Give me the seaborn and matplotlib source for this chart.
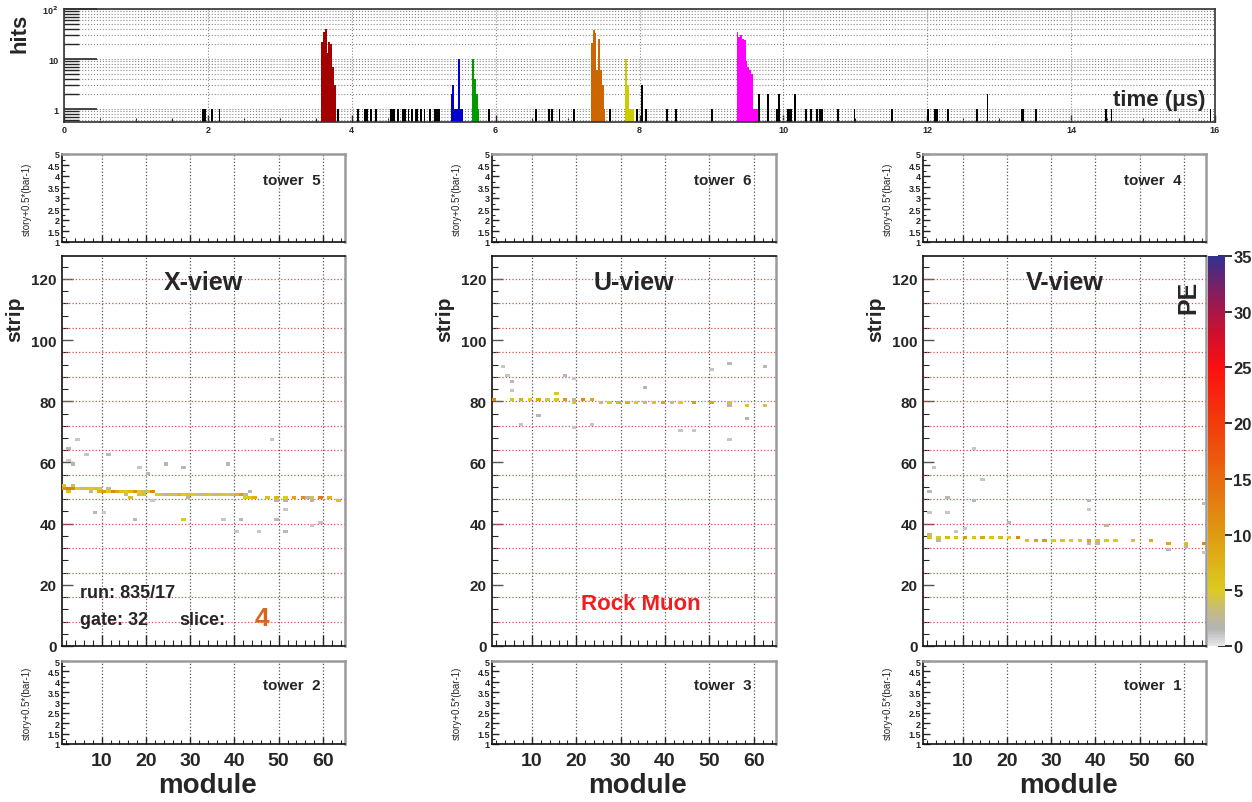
import numpy as np
import pandas as pd
import matplotlib
matplotlib.use("Agg")
import matplotlib.pyplot as plt
import seaborn as sns
from matplotlib.colors import LinearSegmentedColormap, Normalize
from matplotlib.cm import ScalarMappable
from matplotlib.ticker import MultipleLocator, LogLocator, NullFormatter, FuncFormatter, FixedLocator

# ---------------- time spectrum of hits ----------------
BIN_W = 0.025
SLICE_COLORS = ["#a30000", "#0000cc", "#009900", "#cc6600", "#cccc00", "#ff00ff"]
SLICE_START = [3.575, 5.375, 5.675, 7.325, 7.800, 9.350]
SLICE_COUNTS = [
    [22, 35, 40, 13, 22, 20, 7, 3],
    [2, 3, 1, 1, 10, 1, 1],
    [10, 4, 2, 1],
    [21, 38, 33, 6, 25, 6, 3, 1],
    [10, 3, 1, 1, 1],
    [34, 28, 30, 25, 24, 9, 7, 6, 5, 1, 1, 1],
]
NOISE_TIMES = [1.93, 1.96, 2.07, 2.17, 3.81, 4.09, 4.18, 4.21, 4.25, 4.35, 4.53, 4.56,
               4.60, 4.64, 4.71, 4.74, 4.78, 4.83, 4.88, 4.92, 4.95, 5.02, 5.09, 5.16,
               5.18, 5.22, 5.91, 6.57, 6.73, 6.80, 6.89, 7.10, 7.59, 7.96, 8.04, 8.08,
               8.38, 8.52, 9.00, 9.67, 9.79, 9.90, 9.95, 10.06, 10.09, 10.12, 10.15,
               10.17, 10.32, 10.39, 10.46, 10.51, 10.53, 10.76, 10.99, 11.50, 12.01,
               12.11, 12.14, 12.29, 12.69, 12.83, 13.31, 13.34, 13.52, 14.49, 14.56, 15.93]
NOISE_COUNTS = [1, 1, 1, 1, 1, 1, 1, 1, 1, 1, 1, 1,
                1, 1, 1, 1, 1, 1, 1, 1, 1, 1, 1, 1,
                1, 1, 1, 1, 1, 1, 1, 1, 1, 1, 3, 1,
                1, 1, 1, 2, 2, 1, 2, 1, 1, 1, 1,
                1, 1, 1, 1, 1, 1, 1, 1, 1, 1,
                1, 1, 1, 1, 2, 1, 1, 1, 1, 1, 1]

# ---------------- hits per view: (module, strip, PE) ----------------
X_MODULE = [1, 1, 2, 2, 3, 3, 4, 5, 6, 7, 7, 8, 9, 9, 10, 11, 11, 12, 13, 14, 15, 15, 16, 16,
            17, 18, 18, 19, 19, 20, 21, 22, 23, 24, 25, 26, 27, 28, 29, 29, 30, 31, 32, 33,
            34, 35, 36, 37, 38, 39, 40, 41, 42, 42, 43, 44, 47, 49, 49, 51, 51, 53, 55, 57,
            57, 59, 61, 63, 28,
            2, 3, 6, 11, 8, 10, 17, 18, 20, 21, 24, 28, 37, 38, 41, 40, 43, 45, 49, 51, 51,
            57, 59, 48, 4, 2, 56]
X_STRIP = [51, 52, 51, 50, 51, 52, 51, 51, 51, 51, 50, 51, 51, 50, 50, 50, 51, 50, 50, 50, 50, 49, 50, 48,
           50, 50, 49, 50, 49, 50, 50, 49, 49, 49, 49, 49, 49, 49, 49, 48, 49, 49, 49, 49,
           49, 49, 49, 49, 49, 49, 49, 49, 48, 49, 48, 48, 48, 48, 47, 48, 47, 48, 48, 48,
           47, 48, 48, 47, 41,
           64, 59, 62, 62, 43, 43, 41, 58, 56, 47, 59, 58, 41, 59, 41, 37, 50, 37, 41, 44, 37,
           39, 40, 67, 67, 60, 48]
X_PE = [11, 6, 13, 6, 12, 4, 5, 3, 6, 5, 3, 6, 4, 8, 10, 5, 3, 12, 9, 6, 5, 3, 7, 6,
        11, 5, 4, 3, 6, 4, 12, 5, 4, 2, 6, 3, 7, 5, 6, 3, 5, 4, 3, 6,
        5, 3, 6, 4, 5, 3, 7, 10, 5, 2, 6, 8, 6, 7, 2, 5, 2, 9, 11, 4,
        2, 13, 7, 6, 5,
        1.5, 2, 1, 1.5, 1.5, 1, 1.5, 1, 1.5, 1, 2, 1.5, 1, 1.5, 1.5, 1, 2, 1, 1.5, 1, 1.5,
        1, 1, 1, 1, 1, 2]

U_MODULE = [1, 5, 7, 9, 11, 13, 15, 15, 17, 19, 19, 21, 23, 25, 27, 29, 31, 33, 35, 37, 39,
            41, 43, 46, 50, 54, 54, 58, 62,
            5, 5, 11, 17, 19, 19, 23, 35, 43, 46, 50, 54, 54, 58, 62, 7, 3, 4]
U_STRIP = [80, 80, 80, 80, 80, 80, 80, 82, 80, 80, 79, 80, 80, 79, 79, 79, 79, 79, 79, 79, 79,
           79, 79, 79, 79, 79, 78, 78, 78,
           86, 83, 75, 88, 87, 71, 72, 84, 70, 70, 90, 92, 67, 74, 91, 72, 91, 88]
U_PE = [12, 6, 8, 5, 9, 4, 6, 5, 10, 3, 4, 12, 9, 3, 5, 7, 8, 5, 3, 6, 9,
        3, 5, 10, 9, 6, 2, 5, 4,
        1.5, 1, 1.5, 1.5, 1, 1, 1, 2, 1, 1, 1, 1.5, 1, 2, 1.5, 1, 1, 1]

V_MODULE = [2, 2, 4, 4, 6, 8, 10, 12, 14, 16, 18, 20, 22, 24, 26, 28, 30, 32, 34, 36, 38, 38,
            40, 40, 42, 44, 48, 52, 56, 60, 60, 64,
            2, 2, 6, 6, 12, 10, 20, 38, 38, 42, 56, 64, 64, 14, 8, 3, 12]
V_STRIP = [35, 36, 35, 34, 35, 35, 35, 35, 35, 35, 35, 35, 35, 34, 34, 34, 34, 34, 34, 34, 34, 33,
           34, 33, 34, 34, 34, 34, 33, 33, 32, 33,
           50, 43, 48, 43, 47, 38, 40, 47, 44, 39, 31, 46, 30, 54, 37, 58, 64]
V_PE = [6, 3, 5, 2, 7, 6, 10, 6, 9, 6, 7, 5, 12, 6, 9, 10, 5, 6, 5, 5, 9, 2,
        6, 2, 5, 5, 6, 8, 9, 6, 2, 12,
        1.5, 1, 1.5, 1, 1.5, 1, 1.5, 1.5, 1, 2, 1.5, 1.5, 1, 1, 1, 1, 1]

VIEW_TITLES = ["X-view", "U-view", "V-view"]
TOP_TOWERS = [5, 6, 4]
BOTTOM_TOWERS = [2, 3, 1]
PE_MAX = 35

# ---------------- style ----------------
sns.set_theme(style="white")
plt.rcParams["font.family"] = ["Liberation Sans", "DejaVu Sans"]
plt.rcParams["font.weight"] = "bold"
plt.rcParams["axes.linewidth"] = 1.0

W, H = 1252, 803
fig = plt.figure(figsize=(W / 100, H / 100), dpi=100)
fig.patch.set_facecolor("white")


def add_px_axes(x0, y0, x1, y1):
    return fig.add_axes([x0 / W, 1 - y1 / H, (x1 - x0) / W, (y1 - y0) / H])


def frame(ax):
    for side in ("left", "bottom", "top"):
        ax.spines[side].set_color("#111111")
        ax.spines[side].set_linewidth(1.2)
    ax.spines["right"].set_color("#9a9a9a")
    ax.spines["right"].set_linewidth(1.8)


pe_cmap = LinearSegmentedColormap.from_list("pe", [
    (0.0, "#e6e6e6"), (1.5 / 35, "#b4b4b4"), (3 / 35, "#c4bb86"), (5 / 35, "#dccb1e"),
    (10 / 35, "#df9a12"), (15 / 35, "#e86a0e"), (20 / 35, "#f23c0c"), (25 / 35, "#fc1010"),
    (28 / 35, "#d0102c"), (31.5 / 35, "#8c1c5a"), (1.0, "#34308e")])
pe_norm = Normalize(0, PE_MAX)

# ---------------- top: hits vs time ----------------
axh = add_px_axes(64, 10, 1215, 123)
noise = pd.DataFrame({"time": NOISE_TIMES, "hits": NOISE_COUNTS})
sns.histplot(data=noise, x="time", weights="hits", binwidth=BIN_W, binrange=(0, 16),
             color="black", alpha=1, linewidth=0, ax=axh)
for start, counts, col in zip(SLICE_START, SLICE_COUNTS, SLICE_COLORS):
    sl = pd.DataFrame({"time": start + BIN_W * (np.arange(len(counts)) + 0.5),
                       "hits": counts})
    sns.histplot(data=sl, x="time", weights="hits", binwidth=BIN_W,
                 binrange=(start, start + BIN_W * len(counts)),
                 color=col, alpha=1, linewidth=0, ax=axh)
axh.set_yscale("log")
axh.set_xlim(0, 16)
axh.set_ylim(0.55, 100)
axh.set_xlabel("")
axh.set_ylabel("")
axh.xaxis.set_major_locator(MultipleLocator(2))
axh.xaxis.set_minor_locator(MultipleLocator(0.5))
axh.yaxis.set_major_locator(FixedLocator([1, 10, 100]))
axh.yaxis.set_major_formatter(FuncFormatter(
    lambda v, p: {1: "1", 10: "10", 100: "10$^{2}$"}.get(int(round(v)), "")))
axh.yaxis.set_minor_locator(LogLocator(base=10, subs=np.arange(2, 10) * 1.0, numticks=20))
axh.yaxis.set_minor_formatter(NullFormatter())
axh.grid(True, axis="y", which="both", ls=":", color="#8a8a8a", lw=0.8)
axh.grid(True, axis="x", which="major", ls=":", color="#8a8a8a", lw=0.8)
axh.set_axisbelow(True)
axh.tick_params(axis="y", which="major", direction="in", length=24, width=1.2,
                labelsize=6.5, pad=4, left=True)
axh.tick_params(axis="y", which="minor", direction="in", length=11, width=1.0, left=True)
axh.tick_params(axis="x", which="major", direction="in", length=5, width=1.0,
                labelsize=6.5, pad=2, bottom=True)
axh.tick_params(axis="x", which="minor", direction="in", length=3, width=0.8, bottom=True)
for s in axh.spines.values():
    s.set_color("#333333")
    s.set_linewidth(1.2)
axh.text(0.992, 0.2, "time (\u03bcs)", transform=axh.transAxes, ha="right",
         va="center", fontsize=16, fontweight="bold")
fig.text(20 / W, 1 - 33 / H, "hits", rotation=90, ha="center", va="center",
         fontsize=16, fontweight="bold")

# ---------------- views ----------------
COLUMNS = [(62, 345), (492, 776), (923, 1206)]
view_hits = [(X_MODULE, X_STRIP, X_PE), (U_MODULE, U_STRIP, U_PE), (V_MODULE, V_STRIP, V_PE)]

story_fmt = FuncFormatter(lambda v, p: f"{v:g}")


def tower_panel(ax, tower, show_x):
    ax.set_xlim(1, 65)
    ax.set_ylim(1, 5)
    ax.xaxis.set_major_locator(MultipleLocator(10))
    ax.xaxis.set_minor_locator(MultipleLocator(2))
    ax.yaxis.set_major_locator(MultipleLocator(0.5))
    ax.yaxis.set_minor_locator(MultipleLocator(0.25))
    ax.yaxis.set_major_formatter(story_fmt)
    ax.grid(True, axis="x", which="major", ls=":", color="#555555", lw=0.9)
    ax.tick_params(axis="y", which="major", direction="in", length=5, width=1.0,
                   labelsize=6.5, pad=1.5, left=True)
    ax.tick_params(axis="y", which="minor", direction="in", length=2.5, width=0.8, left=True)
    ax.tick_params(axis="x", which="major", direction="in", length=5, width=1.0,
                   labelsize=14, pad=6, bottom=True, labelbottom=show_x)
    ax.tick_params(axis="x", which="minor", direction="in", length=3, width=0.8, bottom=True)
    frame(ax)
    ax.spines["top"].set_color("#9a9a9a")
    ax.spines["top"].set_linewidth(1.8)
    ax.text(0.71, 0.71, f"tower  {tower}", transform=ax.transAxes, ha="left",
            va="center", fontsize=11, fontweight="bold")


for i, (x0, x1) in enumerate(COLUMNS):
    ax_top = add_px_axes(x0, 155, x1, 243)
    ax_main = add_px_axes(x0, 257, x1, 647)
    ax_bot = add_px_axes(x0, 662, x1, 745)

    tower_panel(ax_top, TOP_TOWERS[i], False)
    tower_panel(ax_bot, BOTTOM_TOWERS[i], True)

    for axt, yc in ((ax_top, 199), (ax_bot, 703)):
        fig.text((x0 - 35) / W, 1 - yc / H, "story+0.5*(bar-1)", rotation=90,
                 ha="center", va="center", fontsize=7, fontweight="normal")

    mods, strips, pe = view_hits[i]
    hits = pd.DataFrame({"module": mods, "strip": strips, "pe": pe})
    sns.histplot(data=hits, x="module", y="strip", weights="pe",
                 binwidth=(1, 1), binrange=((1, 65), (0, 127)),
                 cmap=pe_cmap, ax=ax_main, linewidth=0)
    ax_main.collections[-1].set_clim(0, PE_MAX)
    ax_main.collections[-1].set_zorder(3)
    ax_main.set_xlabel("")
    ax_main.set_ylabel("")
    ax_main.set_xlim(1, 65)
    ax_main.set_ylim(0, 127.5)
    ax_main.xaxis.set_major_locator(MultipleLocator(10))
    ax_main.xaxis.set_minor_locator(MultipleLocator(2))
    ax_main.yaxis.set_major_locator(MultipleLocator(20))
    ax_main.yaxis.set_minor_locator(MultipleLocator(4))
    ax_main.grid(True, axis="x", which="major", ls=":", color="#555555", lw=0.9, zorder=1)
    for s in range(8, 127, 8):
        ax_main.axhline(s, ls=":", color="#e05050", lw=0.9, zorder=1)
    ax_main.tick_params(axis="y", which="major", direction="in", length=8, width=1.0,
                        labelsize=11, pad=4, left=True, color="#555555")
    ax_main.tick_params(axis="y", which="minor", direction="in", length=4, width=0.8, left=True)
    ax_main.tick_params(axis="x", which="major", direction="in", length=8, width=1.0,
                        bottom=True, labelbottom=False)
    ax_main.tick_params(axis="x", which="minor", direction="in", length=4, width=0.8, bottom=True)
    frame(ax_main)
    ax_main.text(0.5, 0.933, VIEW_TITLES[i], transform=ax_main.transAxes, ha="center",
                 va="center", fontsize=18, fontweight="bold")

    fig.text((x0 - 47) / W, 1 - 319 / H, "strip", rotation=90, ha="center",
             va="center", fontsize=15, fontweight="bold")
    fig.text(((x0 + x1) / 2 + 4) / W, 1 - 786 / H, "module", ha="center",
             va="center", fontsize=20, fontweight="bold")

    if i == 0:
        ax_main.text(0.064, 0.136, "run: 835/17", transform=ax_main.transAxes,
                     ha="left", va="center", fontsize=13, fontweight="bold")
        ax_main.text(0.064, 0.069, "gate: 32", transform=ax_main.transAxes,
                     ha="left", va="center", fontsize=13, fontweight="bold")
        ax_main.text(0.415, 0.069, "slice:", transform=ax_main.transAxes,
                     ha="left", va="center", fontsize=13, fontweight="bold")
        ax_main.text(0.68, 0.072, "4", transform=ax_main.transAxes, ha="left",
                     va="center", fontsize=19, fontweight="bold", color="#d2691e")
    if i == 1:
        ax_main.text(0.525, 0.11, "Rock Muon", transform=ax_main.transAxes,
                     ha="center", va="center", fontsize=16, fontweight="bold",
                     color="#f01e1e")

# ---------------- PE colour scale ----------------
cax = add_px_axes(1208, 257, 1225, 647)
cbar = fig.colorbar(ScalarMappable(norm=pe_norm, cmap=pe_cmap), cax=cax)
cbar.outline.set_visible(False)
cbar.set_ticks(np.arange(0, PE_MAX + 1, 5))
cax.tick_params(direction="inout", length=10, width=1.3, labelsize=12, pad=1, color="#222222")
for lab in cax.get_yticklabels():
    lab.set_fontweight("bold")
fig.text(1188 / W, 1 - 297 / H, "PE", rotation=90, ha="center", va="center",
         fontsize=18, fontweight="bold")

fig.savefig("out.png", dpi=100, facecolor="white")
